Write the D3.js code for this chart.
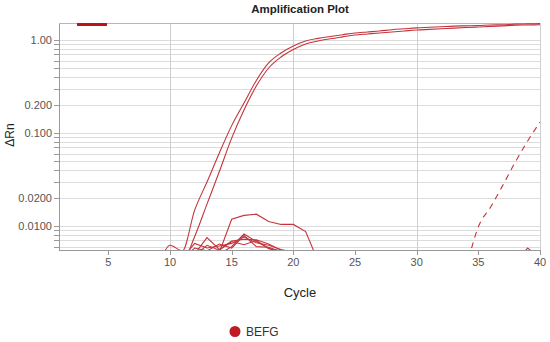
<!DOCTYPE html>
<html>
<head>
<meta charset="utf-8">
<script src="https://cdn.jsdelivr.net/npm/d3@7"></script>
<style>
    body { margin: 0; background: #fff; }
    text { font-family: "Liberation Sans", Arial, sans-serif; }
</style>
</head>
<body>
<div id="chart"></div>
<script>
// ---- data ----
const xTicks = [5, 10, 15, 20, 25, 30, 35, 40];
const yLabelTicks = [1.0, 0.2, 0.1, 0.02, 0.01];
const yLabelText = ["1.00", "0.200", "0.100", "0.0200", "0.0100"];

// two amplifying wells, cycles 1..40
const wellA = [0.0030, 0.0028, 0.0031, 0.0029, 0.0030, 0.0032, 0.0031, 0.0035, 0.0040, 0.0062,
               0.0054, 0.0148, 0.0297, 0.061, 0.12, 0.21, 0.367, 0.566, 0.725, 0.862,
               0.975, 1.04, 1.09, 1.14, 1.19, 1.22, 1.25, 1.29, 1.32, 1.35,
               1.37, 1.39, 1.41, 1.42, 1.43, 1.45, 1.46, 1.48, 1.49, 1.50];
const wellB = [0.0029, 0.0030, 0.0028, 0.0031, 0.0030, 0.0029, 0.0032, 0.0030, 0.0033, 0.0036,
               0.0040, 0.0077, 0.0172, 0.0385, 0.088, 0.177, 0.32, 0.50, 0.656, 0.79,
               0.906, 0.975, 1.03, 1.08, 1.13, 1.16, 1.19, 1.22, 1.25, 1.28,
               1.30, 1.32, 1.34, 1.36, 1.38, 1.40, 1.42, 1.44, 1.45, 1.46];

// late well (dashed), cycles 34..40
const lateStart = 34;
const lateWell = [0.0034, 0.0098, 0.016, 0.0276, 0.0488, 0.082, 0.131];

// noisy non-amplifying wells: start cycle + values
const noiseStarts = [13, 13, 11, 11, 11, 12, 37];
const noise1 = [0.0040, 0.0052, 0.0118, 0.0130, 0.0134, 0.0112, 0.0104, 0.0104, 0.0087, 0.0042];
const noise2 = [0.0045, 0.0050, 0.0060, 0.0082, 0.0068, 0.0058, 0.0050, 0.0046];
const noise3 = [0.0045, 0.0065, 0.0058, 0.0061, 0.0065, 0.0076, 0.0066, 0.0062, 0.0056, 0.0052];
const noise4 = [0.0046, 0.0050, 0.0075, 0.0056, 0.0069, 0.0072, 0.0071, 0.0064, 0.0055, 0.0048];
const noise5 = [0.0044, 0.0058, 0.0054, 0.0064, 0.0058, 0.0079, 0.0060, 0.0059, 0.0053, 0.0047];
const noise6 = [0.0048, 0.0062, 0.0055, 0.0068, 0.0063, 0.0070, 0.0057, 0.0054, 0.0050];
const noise7 = [0.0045, 0.0040, 0.0058, 0.0045];

const width = 550, height = 342;
const margin = {top: 23, right: 10, bottom: 92, left: 59};
const color = "#c4343c";

const svg = d3.select("#chart").append("svg")
    .attr("width", width)
    .attr("height", height);

const x = d3.scaleLinear()
    .domain([1, 40])
    .range([margin.left, width - margin.right]);

const y = d3.scaleLog()
    .domain([0.00552, 1.523])
    .range([height - margin.bottom, margin.top]);

// title
svg.append("text")
    .attr("x", 300).attr("y", 13)
    .attr("text-anchor", "middle")
    .attr("font-size", 11.5)
    .attr("font-weight", "bold")
    .attr("fill", "#222")
    .text("Amplification Plot");

// minor log ticks for grid
const minor = [];
[0.001, 0.01, 0.1, 1].forEach(d => {
    for (let k = 1; k <= 9; k++) {
        const v = d * k;
        if (v >= y.domain()[0] && v <= y.domain()[1]) minor.push(v);
    }
});

const grid = svg.append("g");
grid.selectAll("line.h")
    .data(minor)
    .join("line")
    .attr("x1", x(1)).attr("x2", x(40))
    .attr("y1", d => Math.round(y(d)) + 0.5)
    .attr("y2", d => Math.round(y(d)) + 0.5)
    .attr("stroke", "#dcdcdc");

grid.selectAll("line.v")
    .data([10, 20, 30, 40])
    .join("line")
    .attr("x1", d => Math.round(x(d)) + 0.5)
    .attr("x2", d => Math.round(x(d)) + 0.5)
    .attr("y1", y.range()[1]).attr("y2", y.range()[0])
    .attr("stroke", "#cfcfcf");

// y tick marks
svg.append("g").selectAll("line")
    .data(minor)
    .join("line")
    .attr("x1", x(1) - 5).attr("x2", x(1))
    .attr("y1", d => Math.round(y(d)) + 0.5)
    .attr("y2", d => Math.round(y(d)) + 0.5)
    .attr("stroke", "#999");

svg.append("g").selectAll("text")
    .data(yLabelTicks)
    .join("text")
    .attr("x", x(1) - 7)
    .attr("y", d => y(d) + 4)
    .attr("text-anchor", "end")
    .attr("font-size", 11)
    .attr("fill", "#555")
    .text((d, i) => yLabelText[i]);

// x axis
const xAxis = svg.append("g");
xAxis.selectAll("line")
    .data(xTicks)
    .join("line")
    .attr("x1", d => Math.round(x(d)) + 0.5)
    .attr("x2", d => Math.round(x(d)) + 0.5)
    .attr("y1", y.range()[0]).attr("y2", y.range()[0] + 5)
    .attr("stroke", "#999");
xAxis.selectAll("text")
    .data(xTicks)
    .join("text")
    .attr("x", d => x(d))
    .attr("y", y.range()[0] + 16)
    .attr("text-anchor", "middle")
    .attr("font-size", 11)
    .attr("fill", "#555")
    .text(d => d);

// frame lines
svg.append("line")
    .attr("x1", x(1) + 0.5).attr("x2", x(1) + 0.5)
    .attr("y1", y.range()[1]).attr("y2", y.range()[0])
    .attr("stroke", "#999");
svg.append("line")
    .attr("x1", x(1)).attr("x2", x(40))
    .attr("y1", y.range()[0] + 0.5).attr("y2", y.range()[0] + 0.5)
    .attr("stroke", "#999");
svg.append("line")
    .attr("x1", x(1)).attr("x2", x(40))
    .attr("y1", y.range()[1] + 0.5).attr("y2", y.range()[1] + 0.5)
    .attr("stroke", "#e2a4a4");

// curves
svg.append("clipPath").attr("id", "clip")
    .append("rect")
    .attr("x", x(1)).attr("y", y.range()[1])
    .attr("width", x(40) - x(1))
    .attr("height", y.range()[0] - y.range()[1]);

const toPoints = (start, vals) => vals.map((v, i) => ({c: start + i, v: v}));
const series = [
    {pts: toPoints(1, wellA), dash: null, smooth: true},
    {pts: toPoints(1, wellB), dash: null, smooth: true},
    {pts: toPoints(lateStart, lateWell), dash: "6,5", smooth: true},
    ...[noise1, noise2, noise3, noise4, noise5, noise6, noise7]
        .map((n, i) => ({pts: toPoints(noiseStarts[i], n), dash: null, smooth: false}))
];

const line = d3.line()
    .x(d => x(d.c))
    .y(d => y(d.v));
const smoothLine = d3.line()
    .x(d => x(d.c))
    .y(d => y(d.v))
    .curve(d3.curveMonotoneX);

svg.append("g")
    .attr("clip-path", "url(#clip)")
    .selectAll("path")
    .data(series)
    .join("path")
    .attr("d", d => d.smooth ? smoothLine(d.pts) : line(d.pts))
    .attr("fill", "none")
    .attr("stroke", color)
    .attr("stroke-width", 1.1)
    .attr("stroke-dasharray", d => d.dash);

// threshold handle at top left
svg.append("rect")
    .attr("x", 77).attr("y", y.range()[1])
    .attr("width", 30).attr("height", 3)
    .attr("fill", "#c0101c");

// axis titles
svg.append("text")
    .attr("transform", "translate(14,135) rotate(-90)")
    .attr("text-anchor", "middle")
    .attr("font-size", 12)
    .attr("fill", "#222")
    .text("ΔRn");

svg.append("text")
    .attr("x", 300).attr("y", 297)
    .attr("text-anchor", "middle")
    .attr("font-size", 13)
    .attr("fill", "#222")
    .text("Cycle");

// legend
svg.append("circle")
    .attr("cx", 235).attr("cy", 331.5)
    .attr("r", 5.5)
    .attr("fill", "#c01a24");
svg.append("text")
    .attr("x", 246).attr("y", 336)
    .attr("font-size", 12)
    .attr("fill", "#333")
    .text("BEFG");
</script>
</body>
</html>
